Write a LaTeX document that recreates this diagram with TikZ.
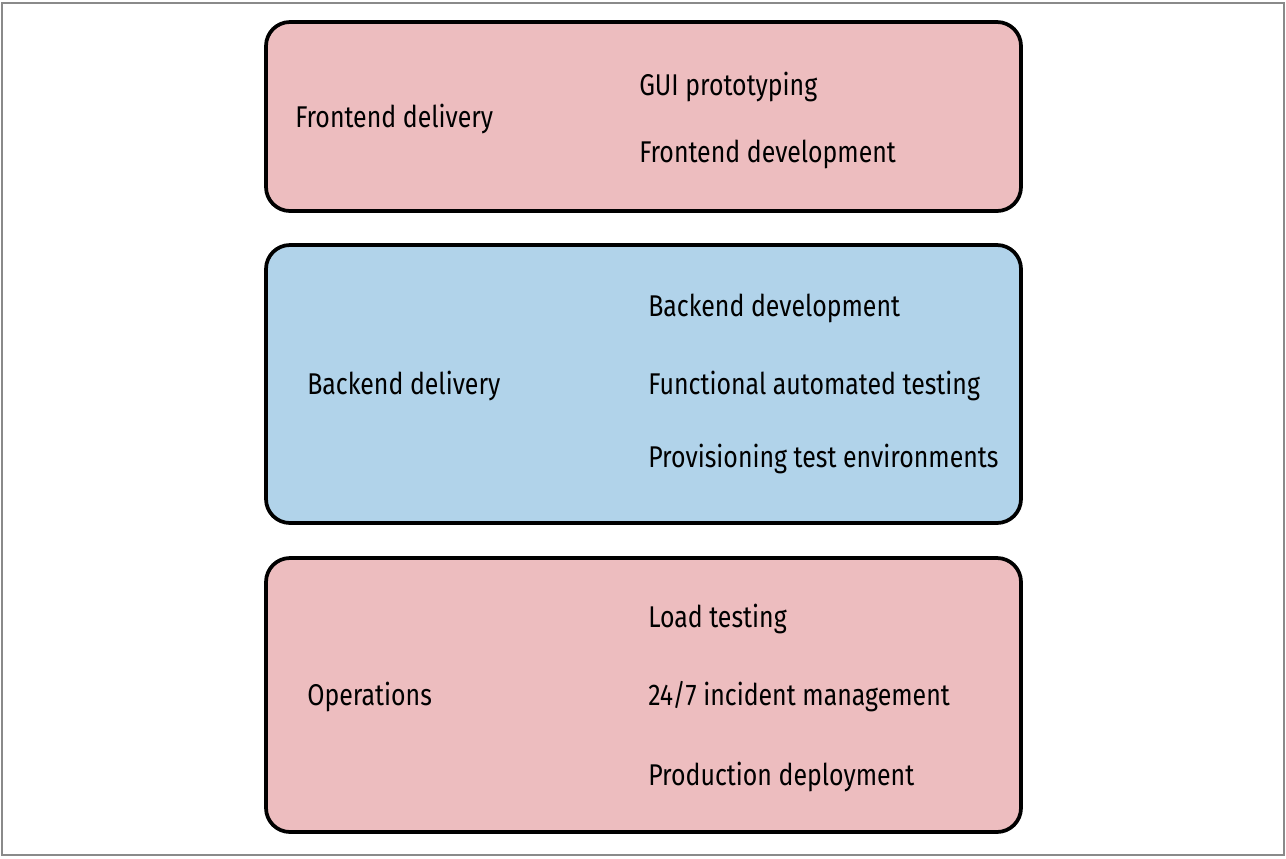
\documentclass[tikz,border=0pt]{standalone}
\usepackage{fontspec}
\setmainfont{Fira Sans}[FakeStretch=0.83]
\definecolor{boxpink}{HTML}{EDBDBF}
\definecolor{boxblue}{HTML}{B1D3EA}
\definecolor{framegrey}{HTML}{8A8A8A}
\begin{document}
\begin{tikzpicture}[x=0.75pt,y=-0.75pt,
  panel/.style={draw=black,line width=2.8pt,rounded corners=18pt,inner sep=0pt,
    minimum width=566.25pt},
  lbl/.style={anchor=base west,inner sep=0pt,font=\fontsize{22.5}{27}\selectfont}]
\useasboundingbox (0,0) rectangle (1286,858);
\draw[framegrey,line width=1.2pt] (2,3) rectangle (1284,855);
\node[panel,fill=boxpink,minimum height=141.75pt] (front) at (643.5,116.5) {};
\node[panel,fill=boxblue,minimum height=208.5pt] (back) at (643.5,384) {};
\node[panel,fill=boxpink,minimum height=205.5pt] (ops) at (643.5,695) {};
\node[lbl] (fd) at (295,127) {Frontend delivery};
\node[lbl] (gui) at (639,95) {GUI prototyping};
\node[lbl] (fdev) at (639,162) {Frontend development};
\node[lbl] (bd) at (307,394) {Backend delivery};
\node[lbl] (bdev) at (648,316) {Backend development};
\node[lbl] (fat) at (648,394) {Functional automated testing};
\node[lbl] (pte) at (648,467) {Provisioning test environments};
\node[lbl] (op) at (307,705) {Operations};
\node[lbl] (lt) at (648,627) {Load testing};
\node[lbl] (im) at (648,705) {24/7 incident management};
\node[lbl] (pd) at (648,785) {Production deployment};
\end{tikzpicture}
\end{document}
